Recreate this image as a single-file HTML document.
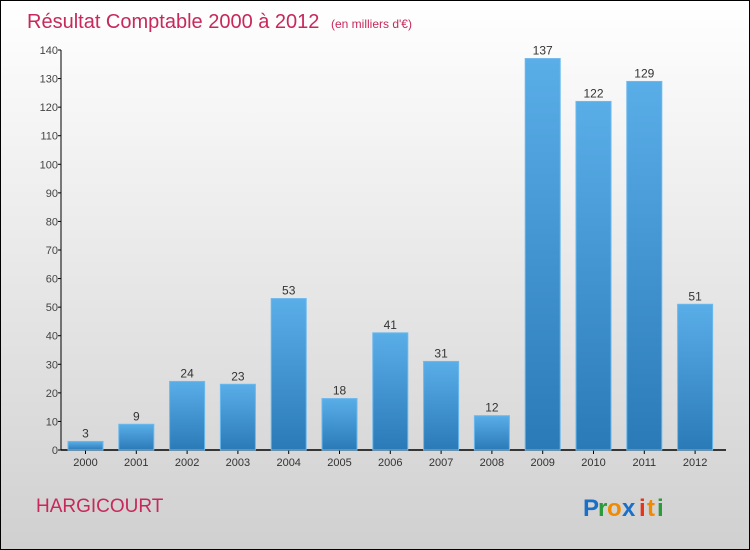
<!DOCTYPE html>
<html><head><meta charset="utf-8"><style>
body{margin:0}
#c{position:relative;width:748px;height:548px;border:1px solid #000;background:linear-gradient(#ffffff,#d0d0d0);font-family:"Liberation Sans",sans-serif;overflow:hidden}
</style></head><body>
<div id="c">
<svg width="748" height="548" style="position:absolute;left:0;top:0" id="svg">
<defs><linearGradient id="bg" x1="0" y1="0" x2="0" y2="1"><stop offset="0" stop-color="#5aaee8"/><stop offset="1" stop-color="#2a7ab8"/></linearGradient></defs>
<text x="26" y="27" font-size="20" fill="#c8285a">Résultat Comptable 2000 à 2012 <tspan font-size="12" dx="6">(en milliers d'€)</tspan></text>
<text x="35" y="511" font-size="19" fill="#c8285a">HARGICOURT</text>
<g font-size="24" font-weight="bold"><text x="582" y="515" fill="#1a6fc8">P</text><text x="597" y="515" fill="#2a9a3a">r</text><text x="606" y="515" fill="#f08a00">o</text><text x="621" y="515" fill="#1a6fc8">x</text><text x="638" y="515" fill="#e8321a">i</text><text x="646" y="515" fill="#f08a00">t</text><text x="656" y="515" fill="#2a9a3a">i</text></g>
<g id="axes"></g><g id="bars"></g>
</svg>
</div>
<script>
const categories=["2000","2001","2002","2003","2004","2005","2006","2007","2008","2009","2010","2011","2012"];
const values=[3,9,24,23,53,18,41,31,12,137,122,129,51];
const ticks=[0,10,20,30,40,50,60,70,80,90,100,110,120,130,140];
const NS="http://www.w3.org/2000/svg";
const y0=449,yTop=49,vmax=140,ax=60;
const y=v=>y0-(v/vmax)*(y0-yTop);
const x=i=>84.5+i*50.8;
const bw=35;
function mk(t,a,p){const e=document.createElementNS(NS,t);for(const k in a)e.setAttribute(k,a[k]);p.appendChild(e);return e;}
const axes=document.getElementById('axes'),bars=document.getElementById('bars');
let l=mk('line',{x1:ax,y1:yTop,x2:ax,y2:y0,stroke:'#000','stroke-width':1},axes);

l=mk('line',{x1:ax,y1:y0,x2:725,y2:y0,stroke:'#000','stroke-width':1.5},axes);

ticks.forEach(t=>{
 const tk=mk('line',{x1:ax-3,y1:y(t),x2:ax,y2:y(t),stroke:'#000'},axes);
 
 const tx=mk('text',{x:ax-3,y:y(t)+4,'font-size':11,'text-anchor':'end',fill:'#444'},axes);tx.textContent=t;
 
});
categories.forEach((c,i)=>{
 const r=mk('rect',{x:x(i)-bw/2,y:y(values[i]),width:bw,height:y0-y(values[i]),fill:'url(#bg)',stroke:'#6ab8ee','stroke-width':1},bars);
 
 const v=mk('text',{x:x(i),y:y(values[i])-4,'font-size':12,'text-anchor':'middle',fill:'#333'},bars);v.textContent=values[i];
 
 const tk=mk('line',{x1:x(i),y1:y0,x2:x(i),y2:y0+4,stroke:'#000'},axes);
 
 const t=mk('text',{x:x(i),y:y0+16,'font-size':11,'text-anchor':'middle',fill:'#333'},axes);t.textContent=c;
 
});
</script>
</body></html>
